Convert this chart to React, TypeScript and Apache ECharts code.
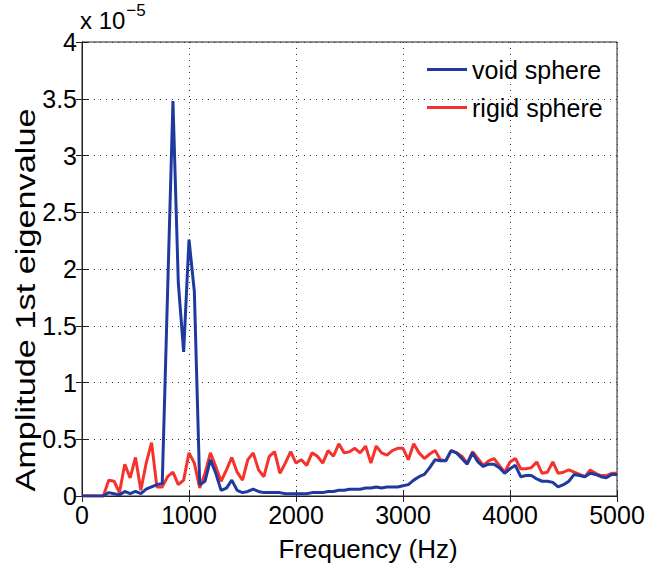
import React, { useEffect, useRef } from "react";
import * as echarts from "echarts";

// Frequency grid (Hz)
const freqs: number[] = [
  0, 50, 100, 150, 200, 250, 300, 350, 400, 450,
  500, 550, 600, 650, 700, 750, 800, 850, 900, 950,
  1000, 1050, 1100, 1150, 1200, 1250, 1300, 1350, 1400, 1450,
  1500, 1550, 1600, 1650, 1700, 1750, 1800, 1850, 1900, 1950,
  2000, 2050, 2100, 2150, 2200, 2250, 2300, 2350, 2400, 2450,
  2500, 2550, 2600, 2650, 2700, 2750, 2800, 2850, 2900, 2950,
  3000, 3050, 3100, 3150, 3200, 3250, 3300, 3350, 3400, 3450,
  3500, 3550, 3600, 3650, 3700, 3750, 3800, 3850, 3900, 3950,
  4000, 4050, 4100, 4150, 4200, 4250, 4300, 4350, 4400, 4450,
  4500, 4550, 4600, 4650, 4700, 4750, 4800, 4850, 4900, 4950,
  5000,
];

// Amplitudes in units of 1e-5
const voidSphere: number[] = [
  0, 0, 0, 0, 0, 0.03, 0.02, 0.01, 0.04, 0.02,
  0.04, 0.02, 0.06, 0.08, 0.1, 0.11, 1.8, 3.48, 1.88, 1.27,
  2.26, 1.8, 0.1, 0.13, 0.32, 0.2, 0.05, 0.07, 0.14, 0.05,
  0.03, 0.04, 0.06, 0.04, 0.03, 0.03, 0.03, 0.03, 0.02, 0.02,
  0.02, 0.02, 0.02, 0.03, 0.03, 0.03, 0.04, 0.04, 0.05, 0.05,
  0.06, 0.06, 0.06, 0.07, 0.07, 0.08, 0.07, 0.08, 0.08, 0.08,
  0.09, 0.1, 0.14, 0.17, 0.19, 0.25, 0.32, 0.31, 0.31, 0.4,
  0.38, 0.33, 0.28, 0.38, 0.3, 0.26, 0.28, 0.28, 0.25, 0.2,
  0.24, 0.27, 0.17, 0.18, 0.18, 0.15, 0.13, 0.13, 0.12, 0.08,
  0.1, 0.13, 0.19, 0.18, 0.17, 0.2, 0.19, 0.17, 0.16, 0.19,
  0.19,
];

const rigidSphere: number[] = [
  0, 0, 0, 0, 0, 0.14, 0.13, 0.03, 0.28, 0.16,
  0.34, 0.05, 0.29, 0.47, 0.08, 0.08, 0.17, 0.21, 0.1, 0.14,
  0.38, 0.29, 0.07, 0.2, 0.38, 0.26, 0.13, 0.23, 0.34, 0.21,
  0.14, 0.32, 0.38, 0.23, 0.17, 0.35, 0.39, 0.2, 0.29, 0.39,
  0.29, 0.32, 0.27, 0.38, 0.35, 0.29, 0.4, 0.35, 0.46, 0.38,
  0.39, 0.42, 0.38, 0.44, 0.29, 0.44, 0.38, 0.36, 0.4, 0.42,
  0.42, 0.32, 0.46, 0.38, 0.33, 0.37, 0.4, 0.32, 0.31, 0.4,
  0.38, 0.35, 0.29, 0.39, 0.33, 0.27, 0.31, 0.33, 0.27, 0.21,
  0.3, 0.33, 0.24, 0.24, 0.25, 0.3, 0.2, 0.21, 0.3, 0.2,
  0.21, 0.23, 0.21, 0.19, 0.17, 0.23, 0.2, 0.18, 0.18, 0.2,
  0.2,
];

const seriesNames: string[] = ["void sphere", "rigid sphere"];
const xTickLabels: string[] = ["0", "1000", "2000", "3000", "4000", "5000"];
const yTickLabels: string[] = ["0", "0.5", "1", "1.5", "2", "2.5", "3", "3.5", "4"];
const xTitle = "Frequency (Hz)";
const yTitle = "Amplitude 1st eigenvalue";

const FONT = "'Liberation Sans', Arial, Helvetica, sans-serif";
const BLUE = "#1f3a9f";
const RED = "#f4342c";

export default function App() {
  const ref = useRef<HTMLDivElement>(null);
  useEffect(() => {
    if (!ref.current) return;
    const chart = echarts.init(ref.current, null, { renderer: "svg" });
    const pair = (vals: number[]) => freqs.map((f, i) => [f, vals[i]]);
    const split = { show: true, lineStyle: { color: "#333", type: [1, 5] as any, width: 1 } };
    const tick = { show: true, inside: true, length: 6, lineStyle: { color: "#222" } };
    chart.setOption({
      animation: false,
      backgroundColor: "#fff",
      grid: {
        left: 82,
        right: 32,
        top: 42,
        bottom: 75,
        show: true,
        borderColor: "#222",
        borderWidth: 1,
        backgroundColor: "transparent",
      },
      legend: {
        data: seriesNames,
        orient: "vertical",
        left: 427,
        top: 57,
        padding: 0,
        itemWidth: 40,
        itemHeight: 3,
        itemGap: 13,
        icon: "rect",
        textStyle: { fontFamily: FONT, fontSize: 25, color: "#000" },
      },
      graphic: [
        {
          type: "text",
          left: 80,
          top: 2,
          style: {
            text: "{a|x 10}{b|−5}",
            rich: {
              a: { fontFamily: FONT, fontSize: 24, fill: "#000", padding: [9, 0, 0, 0] },
              b: { fontFamily: FONT, fontSize: 17, fill: "#000", padding: [0, 0, 11, 1] },
            },
          },
        },
        {
          type: "text",
          x: 26,
          y: 300,
          rotation: Math.PI / 2,
          scaleX: 1.27,
          style: {
            text: yTitle,
            fontFamily: FONT,
            fontSize: 27,
            fill: "#000",
            align: "center",
            verticalAlign: "middle",
          },
        },
        {
          type: "text",
          x: 368,
          y: 549,
          style: {
            text: xTitle,
            fontFamily: FONT,
            fontSize: 26,
            fill: "#000",
            align: "center",
            verticalAlign: "middle",
          },
        },
      ],
      xAxis: [
        {
          type: "value",
          min: 0,
          max: 5000,
          interval: 1000,
          axisLine: { show: true, lineStyle: { color: "#222" } },
          axisTick: tick,
          axisLabel: {
            fontFamily: FONT,
            fontSize: 25,
            color: "#000",
            margin: 6,
            formatter: (v: number) => xTickLabels[Math.round(v / 1000)] ?? "",
          },
          splitLine: split,
        },
        {
          type: "value",
          position: "top",
          min: 0,
          max: 5000,
          interval: 1000,
          axisLine: { show: true, lineStyle: { color: "#222" } },
          axisTick: tick,
          axisLabel: { show: false },
          splitLine: { show: false },
        },
      ],
      yAxis: [
        {
          type: "value",
          min: 0,
          max: 4,
          interval: 0.5,
          axisLine: { show: true, lineStyle: { color: "#222" } },
          axisTick: tick,
          axisLabel: {
            fontFamily: FONT,
            fontSize: 25,
            color: "#000",
            margin: 5,
            formatter: (v: number) => yTickLabels[Math.round(v * 2)] ?? "",
          },
          splitLine: split,
        },
        {
          type: "value",
          position: "right",
          min: 0,
          max: 4,
          interval: 0.5,
          axisLine: { show: true, lineStyle: { color: "#222" } },
          axisTick: tick,
          axisLabel: { show: false },
          splitLine: { show: false },
        },
      ],
      series: [
        {
          name: seriesNames[0],
          type: "line",
          data: pair(voidSphere),
          showSymbol: false,
          symbol: "none",
          lineStyle: { color: BLUE, width: 3 },
          itemStyle: { color: BLUE },
          z: 3,
        },
        {
          name: seriesNames[1],
          type: "line",
          data: pair(rigidSphere),
          showSymbol: false,
          symbol: "none",
          lineStyle: { color: RED, width: 3 },
          itemStyle: { color: RED },
          z: 2,
        },
      ],
    });
    return () => chart.dispose();
  }, []);
  return (
    <div
      ref={ref}
      style={{ position: "fixed", left: 0, top: 0, width: 649, height: 571, background: "#fff" }}
    />
  );
}
